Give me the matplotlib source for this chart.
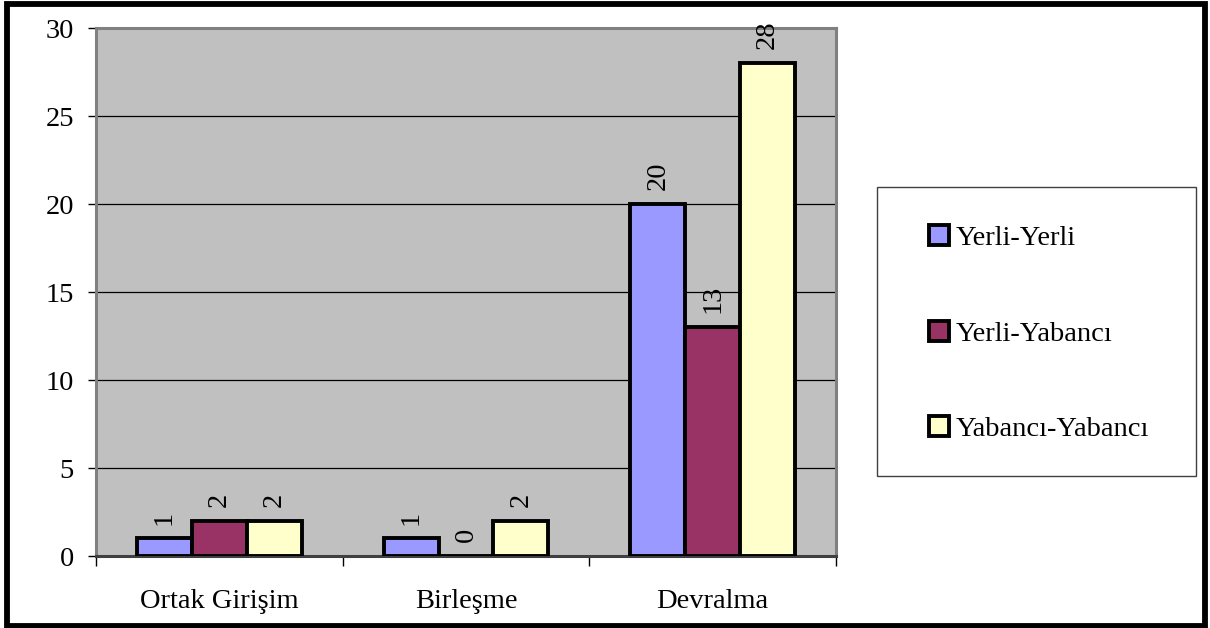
import matplotlib
matplotlib.use("Agg")
import matplotlib.pyplot as plt
import numpy as np
from matplotlib.patches import Rectangle

plt.rcParams["font.family"] = ["Liberation Serif", "DejaVu Serif"]

categories = ["Ortak Girişim", "Birleşme", "Devralma"]
series = ["Yerli-Yerli", "Yerli-Yabancı", "Yabancı-Yabancı"]
yerli_yerli = [1, 1, 20]
yerli_yabanci = [2, 0, 13]
yabanci_yabanci = [2, 2, 28]
colors = ["#9999FF", "#993366", "#FFFFCC"]

FS = 20.5

fig = plt.figure(figsize=(12.1, 6.28), dpi=100)
ax = fig.add_axes([96/1210, 72/628, 740/1210, 528/628])
ax.set_facecolor("#C0C0C0")

x = np.arange(len(categories))
w = 1 / 4.5  # excel gap width 150%
handles = []
for i, (vals, col) in enumerate(zip([yerli_yerli, yerli_yabanci, yabanci_yabanci], colors)):
    pos = x + (i - 1) * w
    b = ax.bar(pos, vals, w, color=col, edgecolor="black", linewidth=2.8, zorder=3, label=series[i])
    handles.append(b)
    for p, v in zip(pos, vals):
        ax.annotate(str(v), (p, v), xytext=(0, 10), textcoords="offset points",
                    rotation=90, ha="center", va="bottom", fontsize=FS, zorder=4)

ax.set_xlim(-0.5, 2.5)
ax.set_ylim(0, 30)
ax.set_yticks(range(0, 31, 5))
ax.grid(axis="y", color="black", linewidth=0.9, zorder=1)
ax.tick_params(axis="y", labelsize=FS, length=6, width=1, pad=10, direction="out")

ax.set_xticks([-0.5, 0.5, 1.5, 2.5])
ax.set_xticklabels([])
ax.tick_params(axis="x", which="major", length=7, width=1, direction="out")
ax.set_xticks(x, minor=True)
ax.set_xticklabels(categories, minor=True)
ax.tick_params(axis="x", which="minor", length=0, labelsize=FS, pad=24)

for s in ax.spines.values():
    s.set_color("#808080")
    s.set_linewidth(2.2)
ax.spines["bottom"].set_color("#404040")

# legend frame
fig.patches.append(Rectangle((877/1210, (628-476)/628), 319/1210, 289/628,
                             transform=fig.transFigure, facecolor="white",
                             edgecolor="#404040", linewidth=1))
fig.legend(handles=handles, loc="upper left", bbox_to_anchor=(929/1210, (628-225)/628),
           frameon=False, fontsize=FS, labelspacing=2.45, handlelength=0.7,
           handleheight=0.7, handletextpad=0.25, borderpad=0, borderaxespad=0)

# outer border
fig.patches.append(Rectangle((7/1210, 2/628), 1198/1210, 622/628, transform=fig.transFigure,
                             fill=False, edgecolor="black", linewidth=4.2))

fig.savefig("out.png", dpi=100)
